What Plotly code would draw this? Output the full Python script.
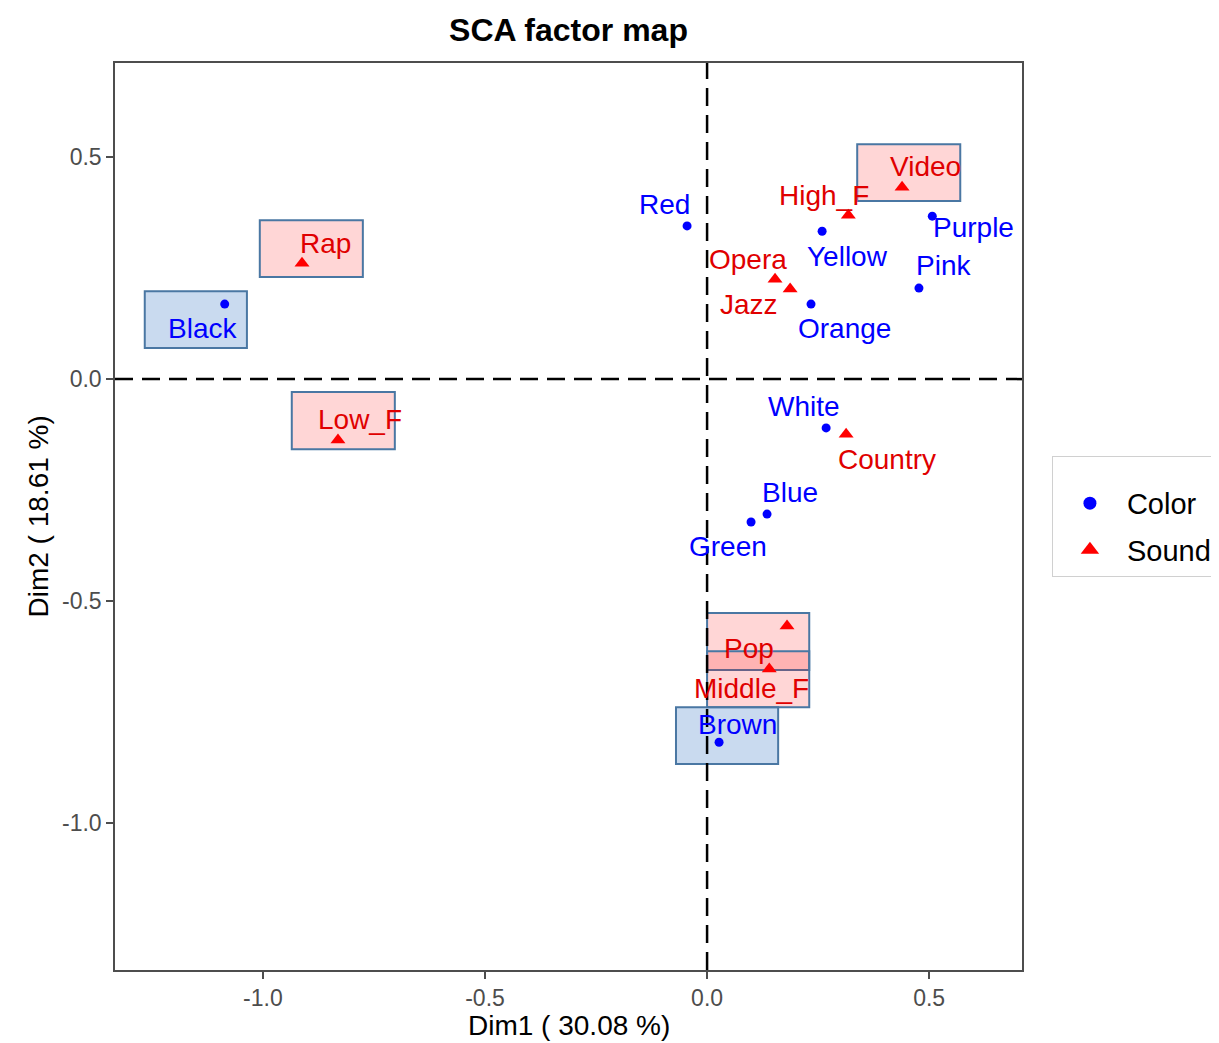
import plotly.graph_objects as go

# ---------------- data ----------------
color_names = ["Red", "Yellow", "Purple", "Pink", "Orange", "Black", "White", "Blue", "Green", "Brown"]
color_dim1 = [-0.045, 0.259, 0.507, 0.477, 0.234, -1.086, 0.268, 0.135, 0.099, 0.027]
color_dim2 = [0.345, 0.333, 0.367, 0.205, 0.169, 0.169, -0.110, -0.304, -0.322, -0.818]

sound_names = ["Video", "High_F", "Rap", "Opera", "Jazz", "Low_F", "Country", "Pop", "Middle_F"]
sound_dim1 = [0.439, 0.318, -0.912, 0.153, 0.187, -0.831, 0.313, 0.180, 0.140]
sound_dim2 = [0.432, 0.369, 0.261, 0.225, 0.203, -0.137, -0.124, -0.556, -0.653]

highlighted = ["Rap", "Black", "Low_F", "Video", "Pop", "Middle_F", "Brown"]

title_text = "SCA factor map"
x_title = "Dim1 ( 30.08 %)"
y_title = "Dim2 ( 18.61 %)"
tick_vals = [-1.0, -0.5, 0.0, 0.5]
tick_text = ["-1.0", "-0.5", "0.0", "0.5"]

# ---------------- layout helpers (label placement, not data) ----------------
label_pos = {
    "Red": (-0.097, 0.394), "Yellow": (0.315, 0.277), "Purple": (0.599, 0.342),
    "Pink": (0.532, 0.255), "Orange": (0.309, 0.113), "Black": (-1.135, 0.115),
    "White": (0.218, -0.061), "Blue": (0.187, -0.255), "Green": (0.047, -0.378),
    "Brown": (0.068, -0.779), "Video": (0.491, 0.480), "High_F": (0.264, 0.414),
    "Rap": (-0.858, 0.306), "Opera": (0.092, 0.270), "Jazz": (0.095, 0.169),
    "Low_F": (-0.782, -0.090), "Country": (0.405, -0.182), "Pop": (0.095, -0.606),
    "Middle_F": (0.099, -0.696),
}
box_pos = {  # x0, x1, y0, y1
    "Rap": (-1.007, -0.775, 0.230, 0.358),
    "Black": (-1.266, -1.036, 0.070, 0.198),
    "Low_F": (-0.935, -0.703, -0.158, -0.029),
    "Video": (0.338, 0.570, 0.401, 0.529),
    "Pop": (0.0, 0.230, -0.655, -0.527),
    "Middle_F": (0.0, 0.230, -0.739, -0.613),
    "Brown": (-0.070, 0.160, -0.867, -0.739),
}

FONT = "Liberation Sans, Arial, sans-serif"
fig = go.Figure()

shapes = []
for name in highlighted:
    x0, x1, y0, y1 = box_pos[name]
    fill = "rgba(100,150,210,0.35)" if name in color_names else "rgba(255,0,0,0.16)"
    shapes.append(dict(type="rect", xref="x", yref="y", x0=x0, x1=x1, y0=y0, y1=y1,
                       fillcolor=fill, line=dict(color="#4A77A3", width=2), layer="below"))

shapes.append(dict(type="line", xref="x", yref="paper", x0=0, x1=0, y0=0, y1=1,
                   line=dict(color="black", width=2.5, dash="18px,9px"), layer="above"))
shapes.append(dict(type="line", xref="paper", yref="y", x0=0, x1=1, y0=0, y1=0,
                   line=dict(color="black", width=2.5, dash="18px,9px"), layer="above"))

fig.add_trace(go.Scatter(x=color_dim1, y=color_dim2, mode="markers", name="Color",
                         marker=dict(symbol="circle", size=9, color="#0000FF"),
                         text=color_names, hoverinfo="text", showlegend=False))
fig.add_trace(go.Scatter(x=sound_dim1, y=sound_dim2, mode="markers", name="Sound",
                         marker=dict(symbol="triangle-up", size=13, color="#FF0000"),
                         text=sound_names, hoverinfo="text", showlegend=False))
# legend entries (larger key symbols, as in the reference)
fig.add_trace(go.Scatter(x=[None], y=[None], mode="markers", name="Color", legendgroup="c",
                         marker=dict(symbol="circle", size=13, color="#0000FF")))
fig.add_trace(go.Scatter(x=[None], y=[None], mode="markers", name="Sound", legendgroup="s",
                         marker=dict(symbol="triangle-up", size=16, color="#FF0000")))

annotations = []
for names, col in ((color_names, "#0000FF"), (sound_names, "#E00000")):
    for n in names:
        lx, ly = label_pos[n]
        annotations.append(dict(x=lx, y=ly, xref="x", yref="y", text=n, showarrow=False,
                                xanchor="center", yanchor="middle",
                                font=dict(family=FONT, size=28, color=col)))

W, H = 1211, 1035
L, T, PW, PH = 107, 55, 907, 907
# axis titles
annotations.append(dict(xref="paper", yref="paper", x=0.5, y=(PH + T - 1017) / PH,
                        text=x_title, showarrow=False, xanchor="center", yanchor="middle",
                        font=dict(size=28, family=FONT, color="black")))
annotations.append(dict(xref="paper", yref="paper", x=(30 - L) / PW, y=0.5, textangle=-90,
                        text=y_title, showarrow=False, xanchor="center", yanchor="middle",
                        font=dict(size=28, family=FONT, color="black")))

fig.update_layout(
    width=W, height=H,
    margin=dict(l=L, r=W - L - PW, t=T, b=H - T - PH, autoexpand=False),
    paper_bgcolor="white", plot_bgcolor="white",
    font=dict(family=FONT, color="black"),
    title=dict(text="<b>" + title_text + "</b>", x=(L + PW / 2) / W, xanchor="center",
               y=1 - 22 / H, yanchor="middle", font=dict(size=32, family=FONT, color="black")),
    shapes=shapes, annotations=annotations,
    showlegend=True,
    legend=dict(x=1.033, xanchor="left", y=0.5, yanchor="middle",
                bordercolor="#D0D0D0", borderwidth=1, bgcolor="white",
                font=dict(size=29, family=FONT, color="black"),
                itemwidth=64, tracegroupgap=6, traceorder="grouped",
                title=dict(text=" ", font=dict(size=16))),
)
axis_common = dict(showgrid=False, zeroline=False, showline=True, linecolor="#4D4D4D",
                   linewidth=1.5, mirror=True, ticks="outside", ticklen=7, tickcolor="#4D4D4D",
                   tickwidth=1.5, tickfont=dict(size=23, family=FONT, color="#4D4D4D"),
                   tickvals=tick_vals, ticktext=tick_text, automargin=False)
fig.update_xaxes(range=[-1.333, 0.709], **axis_common)
fig.update_yaxes(range=[-1.331, 0.712], **axis_common)

fig.write_html("out.html")
